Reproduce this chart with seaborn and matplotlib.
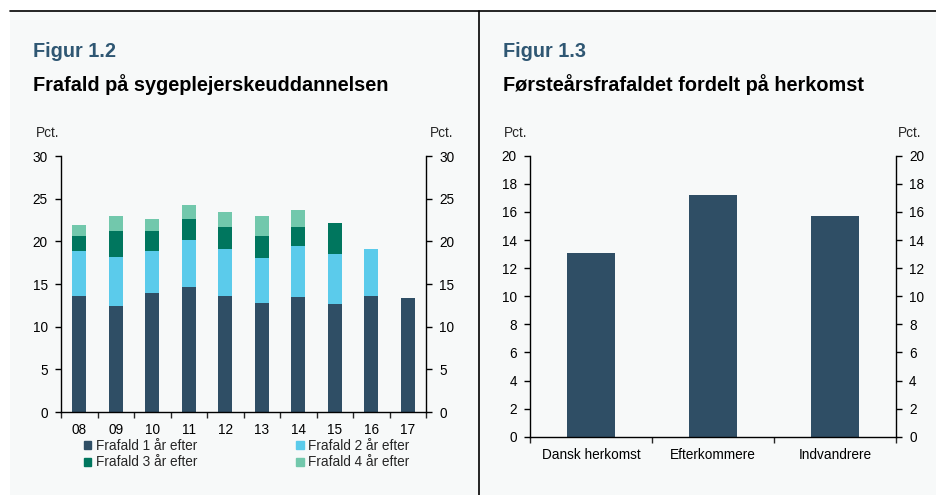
import matplotlib
matplotlib.use("Agg")
import matplotlib.pyplot as plt
import matplotlib.patches as mpatches
import numpy as np
import pandas as pd
import seaborn as sns

# Figur 1.2 - frafald pr. årgang (pct.)
years = ["08", "09", "10", "11", "12", "13", "14", "15", "16", "17"]
frafald_1 = [13.6, 12.4, 13.95, 14.7, 13.6, 12.8, 13.45, 12.65, 13.6, 13.35]
frafald_2 = [5.3, 5.75, 4.9, 5.5, 5.5, 5.3, 5.95, 5.9, 5.55, np.nan]
frafald_3 = [1.75, 3.1, 2.4, 2.4, 2.55, 2.55, 2.3, 3.55, np.nan, np.nan]
frafald_4 = [1.25, 1.7, 1.35, 1.6, 1.8, 2.3, 1.95, np.nan, np.nan, np.nan]
series_labels = ["Frafald 1 år efter", "Frafald 2 år efter",
                 "Frafald 3 år efter", "Frafald 4 år efter"]
series_colors = ["#2F4E65", "#5BCBEB", "#00765E", "#72C8AC"]

# Figur 1.3 - førsteårsfrafald fordelt på herkomst (pct.)
herkomst = ["Dansk herkomst", "Efterkommere", "Indvandrere"]
herkomst_values = [13.05, 17.2, 15.7]

BG = "#F7F9F9"
W, H = 936, 495

sns.set_style("ticks")
plt.rcParams["font.family"] = ["Liberation Sans", "DejaVu Sans"]
plt.rcParams["axes.linewidth"] = 1.0
plt.rcParams["xtick.major.width"] = 1.0
plt.rcParams["ytick.major.width"] = 1.0
plt.rcParams["xtick.minor.width"] = 1.0


def fx(x):
    return x / W


def fy(y):
    return 1 - y / H


def add_axes(x0, y0, x1, y1):
    return fig.add_axes([fx(x0), fy(y1), fx(x1) - fx(x0), (y1 - y0) / H])


def style_axes(ax, ymax, ystep, ncat):
    ax.set_facecolor("none")
    ax.spines["top"].set_visible(False)
    for s in ["left", "right", "bottom"]:
        ax.spines[s].set_visible(True)
        ax.spines[s].set_color("black")
    ax.set_ylim(0, ymax)
    ax.set_yticks(np.arange(0, ymax + 0.01, ystep))
    ax.tick_params(axis="y", left=True, right=True, labelleft=True,
                   labelright=True, direction="out", length=4,
                   labelsize=9.8, colors="black")
    ax.tick_params(axis="y", which="major", pad=5.5)
    ax.set_xlim(-0.5, ncat - 0.5)
    ax.set_xticks(np.arange(-0.5, ncat), minor=True)
    ax.tick_params(axis="x", which="minor", length=4, direction="out")
    ax.tick_params(axis="x", which="major", length=0, pad=8,
                   labelsize=9.8, colors="black")
    ax.set_xlabel("")
    ax.set_ylabel("")


fig = plt.figure(figsize=(W / 100, H / 100), dpi=100)
fig.patch.set_facecolor("white")
fig.patches.append(mpatches.Rectangle((fx(10), 0), 1 - fx(10), fy(11),
                                      transform=fig.transFigure,
                                      facecolor=BG, edgecolor="none", zorder=-10))
fig.add_artist(plt.Line2D([fx(10), 1], [fy(11), fy(11)], color="black", lw=1.2))
fig.add_artist(plt.Line2D([fx(479), fx(479)], [0, fy(11)], color="black", lw=1.2))

# ---- venstre figur: stablede søjler
df = pd.DataFrame({"year": years, "s1": frafald_1, "s2": frafald_2,
                   "s3": frafald_3, "s4": frafald_4})
df["c1"] = df["s1"]
df["c2"] = df["c1"] + df["s2"]
df["c3"] = df["c2"] + df["s3"]
df["c4"] = df["c3"] + df["s4"]

ax1 = add_axes(61, 156, 426, 412)
for col, color in zip(["c4", "c3", "c2", "c1"], series_colors[::-1]):
    sns.barplot(data=df, x="year", y=col, order=years, color=color,
                saturation=1, width=0.38, errorbar=None, linewidth=0, ax=ax1)
style_axes(ax1, 30, 5, len(years))

handles = [mpatches.Patch(color=c, label=l) for c, l in zip(series_colors, series_labels)]
order = [0, 2, 1, 3]
fig.legend([handles[i] for i in order], [series_labels[i] for i in order],
           ncol=2, loc="upper left", bbox_to_anchor=(fx(84), fy(438.5)),
           frameon=False, fontsize=9.8, handlelength=0.55, handleheight=0.55,
           handletextpad=0.3, columnspacing=7.3, labelspacing=0.22,
           borderpad=0, borderaxespad=0)

fig.text(fx(33), fy(57), "Figur 1.2", fontsize=14.3, fontweight="bold",
         color="#2F5773", va="baseline")
fig.text(fx(33), fy(91), "Frafald på sygeplejerskeuddannelsen", fontsize=14.3,
         fontweight="bold", color="black", va="baseline")
fig.text(fx(36), fy(137), "Pct.", fontsize=9.8, va="baseline")
fig.text(fx(430), fy(137), "Pct.", fontsize=9.8, va="baseline")

# ---- højre figur: søjler efter herkomst
df2 = pd.DataFrame({"herkomst": herkomst, "value": herkomst_values})
ax2 = add_axes(530, 155.7, 896, 436.7)
sns.barplot(data=df2, x="herkomst", y="value", order=herkomst, color=series_colors[0],
            saturation=1, width=0.40, errorbar=None, linewidth=0, ax=ax2)
style_axes(ax2, 20, 2, len(herkomst))

fig.text(fx(503), fy(57), "Figur 1.3", fontsize=14.3, fontweight="bold",
         color="#2F5773", va="baseline")
fig.text(fx(503), fy(91), "Førsteårsfrafaldet fordelt på herkomst", fontsize=14.3,
         fontweight="bold", color="black", va="baseline")
fig.text(fx(504), fy(137), "Pct.", fontsize=9.8, va="baseline")
fig.text(fx(898), fy(137), "Pct.", fontsize=9.8, va="baseline")

fig.savefig("out.png", dpi=100, facecolor=fig.get_facecolor())
